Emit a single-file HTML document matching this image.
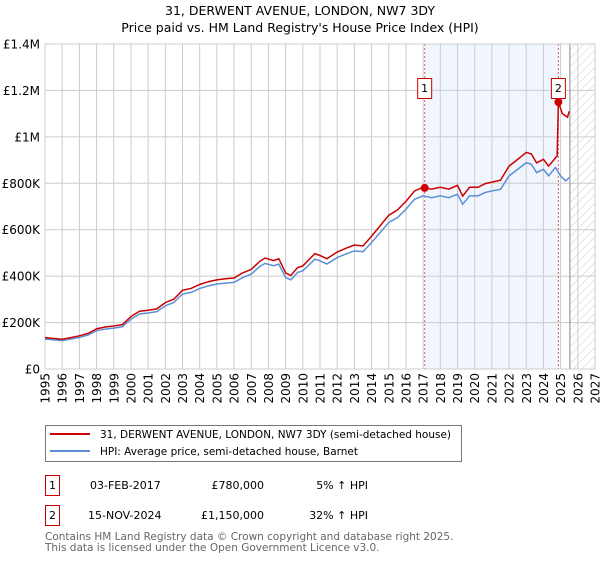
<!DOCTYPE html>
<html><head><meta charset="utf-8">
<style>
body{margin:0;background:#fff;font-family:"Liberation Sans","DejaVu Sans",sans-serif;}
svg text{font-family:"DejaVu Sans","Liberation Sans",sans-serif;}
</style></head>
<body>
<svg width="600" height="560" id="chart" xmlns="http://www.w3.org/2000/svg">
<defs>
<pattern id="hatch" width="6" height="6" patternUnits="userSpaceOnUse" patternTransform="rotate(45)">
<line x1="0" y1="0" x2="0" y2="6" stroke="#ccc" stroke-width="1"/>
</pattern>
</defs>
<text x="300" y="15" text-anchor="middle" font-size="12.5" fill="#000">31, DERWENT AVENUE, LONDON, NW7 3DY</text>
<text x="300" y="32" text-anchor="middle" font-size="12.5" fill="#000">Price paid vs. HM Land Registry's House Price Index (HPI)</text>
<g id="plot"></g>
<g>
<rect x="45.5" y="425.5" width="416" height="36" fill="#fff" stroke="#777"/>
<line x1="50" y1="434" x2="90" y2="434" stroke="#cc0000" stroke-width="2"/>
<text x="100" y="438" font-size="10.5" textLength="351" lengthAdjust="spacingAndGlyphs">31, DERWENT AVENUE, LONDON, NW7 3DY (semi-detached house)</text>
<line x1="50" y1="451" x2="90" y2="451" stroke="#5b8fd4" stroke-width="2"/>
<text x="100" y="455" font-size="10.5" textLength="258" lengthAdjust="spacingAndGlyphs">HPI: Average price, semi-detached house, Barnet</text>
</g>
<g font-size="11">
<rect x="45.5" y="475.5" width="14" height="20" fill="#fff" stroke="#cc0000"/>
<text x="52.5" y="489" text-anchor="middle">1</text>
<text x="90" y="489">03-FEB-2017</text>
<text x="264" y="489" text-anchor="end">£780,000</text>
<text x="368" y="489" text-anchor="end">5% ↑ HPI</text>
<rect x="45.5" y="505.5" width="14" height="20" fill="#fff" stroke="#cc0000"/>
<text x="52.5" y="519" text-anchor="middle">2</text>
<text x="88" y="519">15-NOV-2024</text>
<text x="264" y="519" text-anchor="end">£1,150,000</text>
<text x="368" y="519" text-anchor="end">32% ↑ HPI</text>
</g>
<text x="45" y="540" font-size="10.5" fill="#666">Contains HM Land Registry data © Crown copyright and database right 2025.</text>
<text x="45" y="551" font-size="10.5" fill="#666">This data is licensed under the Open Government Licence v3.0.</text>
</svg>
<script>
const years=[1995,1996,1996.5,1997,1997.5,1998,1998.5,1999,1999.5,2000,2000.5,2001,2001.5,2002,2002.5,2003,2003.5,2004,2004.5,2005,2005.5,2006,2006.5,2007,2007.5,2007.8,2008.3,2008.6,2009,2009.3,2009.7,2010,2010.7,2011,2011.4,2012,2012.5,2013,2013.5,2014,2014.5,2015,2015.5,2016,2016.5,2017,2017.5,2018,2018.5,2019,2019.3,2019.7,2020.2,2020.6,2021,2021.5,2022,2022.5,2023,2023.3,2023.6,2024,2024.3,2024.7,2025,2025.3,2025.5];
const hpiValues=[129,122,129,136,146,165,172,176,182,215,237,241,247,272,287,323,330,347,358,366,370,373,394,409,442,455,445,452,394,384,416,423,473,466,452,480,495,509,505,545,588,631,652,688,731,746,738,746,738,753,710,746,746,760,767,774,832,860,889,882,846,860,832,868,832,810,825];
const priceYears=[1995,1996,1996.5,1997,1997.5,1998,1998.5,1999,1999.5,2000,2000.5,2001,2001.5,2002,2002.5,2003,2003.5,2004,2004.5,2005,2005.5,2006,2006.5,2007,2007.5,2007.8,2008.3,2008.6,2009,2009.3,2009.7,2010,2010.7,2011,2011.4,2012,2012.5,2013,2013.5,2014,2014.5,2015,2015.5,2016,2016.5,2017,2017.09,2017.5,2018,2018.5,2019,2019.3,2019.7,2020.2,2020.6,2021,2021.5,2022,2022.5,2023,2023.3,2023.6,2024,2024.3,2024.8,2024.87,2025.1,2025.4,2025.5];
const priceValues=[135,128,135,143,153,173,181,185,191,226,249,253,259,286,301,339,347,364,376,384,389,392,414,429,464,478,467,475,414,403,437,444,497,489,475,504,520,534,530,572,617,662,685,722,767,783,780,775,783,775,791,745,783,783,798,805,813,874,903,933,926,888,903,874,918,1150,1100,1085,1110];
const yTicks=[0,200,400,600,800,1000,1200,1400];
const yTickLabels=["£0","£200K","£400K","£600K","£800K","£1M","£1.2M","£1.4M"];
const xTicks=[1995,1996,1997,1998,1999,2000,2001,2002,2003,2004,2005,2006,2007,2008,2009,2010,2011,2012,2013,2014,2015,2016,2017,2018,2019,2020,2021,2022,2023,2024,2025,2026,2027];
const sales=[{n:"1",year:2017.09,value:780},{n:"2",year:2024.87,value:1150}];
const dataEnd=2025.54;

const L=45,R=595,T=44,B=369,X0=1995,X1=2027,Ymax=1400;
const sx=v=>L+(v-X0)/(X1-X0)*(R-L);
const sy=v=>B-v/Ymax*(B-T);
const NS="http://www.w3.org/2000/svg";
const plot=document.getElementById('plot');
function mk(tag,attrs,parent){const e=document.createElementNS(NS,tag);for(const k in attrs)e.setAttribute(k,attrs[k]);(parent||plot).appendChild(e);return e;}

let sh=mk('rect',{x:sx(sales[0].year),y:T,width:sx(sales[1].year)-sx(sales[0].year),height:B-T,fill:'#eef2fc',opacity:0.8});


xTicks.forEach(t=>{const g=mk('line',{x1:sx(t),x2:sx(t),y1:T,y2:B,stroke:'#cccccc','stroke-width':1});

});
yTicks.forEach(t=>{const g=mk('line',{x1:L,x2:R,y1:sy(t),y2:sy(t),stroke:'#cccccc','stroke-width':1});

});
let hz=mk('rect',{x:sx(dataEnd),y:T,width:R-sx(dataEnd),height:B-T,fill:'url(#hatch)'});


let hl=mk('line',{x1:sx(dataEnd),x2:sx(dataEnd),y1:T,y2:B,stroke:'#888','stroke-width':1});


sales.forEach(s=>{const v=mk('line',{x1:sx(s.year),x2:sx(s.year),y1:T,y2:B,stroke:'#e06060','stroke-width':1,'stroke-dasharray':'2,2'});

});
let fr=mk('rect',{x:L,y:T,width:R-L,height:B-T,fill:'none',stroke:'#cccccc'});


let hp=mk('polyline',{points:years.map((y,i)=>sx(y)+','+sy(hpiValues[i])).join(' '),fill:'none',stroke:'#5b8fd4','stroke-width':1.5});


let pp=mk('polyline',{points:priceYears.map((y,i)=>sx(y)+','+sy(priceValues[i])).join(' '),fill:'none',stroke:'#cc0000','stroke-width':1.5});


sales.forEach(s=>{
const c=mk('circle',{cx:sx(s.year),cy:sy(s.value),r:4,fill:'#cc0000'});


const bx=mk('rect',{x:sx(s.year)-7,y:78.5,width:14,height:20,fill:'#fff',stroke:'#cc0000'});


const tx=mk('text',{x:sx(s.year),y:92,'text-anchor':'middle','font-size':11});
tx.textContent=s.n;


});
yTicks.forEach((t,i)=>{const tx=mk('text',{x:40,y:sy(t)+4.5,'text-anchor':'end','font-size':12});
tx.textContent=yTickLabels[i];

});
xTicks.forEach(t=>{const tx=mk('text',{x:0,y:0,'text-anchor':'end','font-size':12,transform:`translate(${sx(t)+4.5},373) rotate(-90)`});
tx.textContent=String(t);

});
</script>
</body></html>
